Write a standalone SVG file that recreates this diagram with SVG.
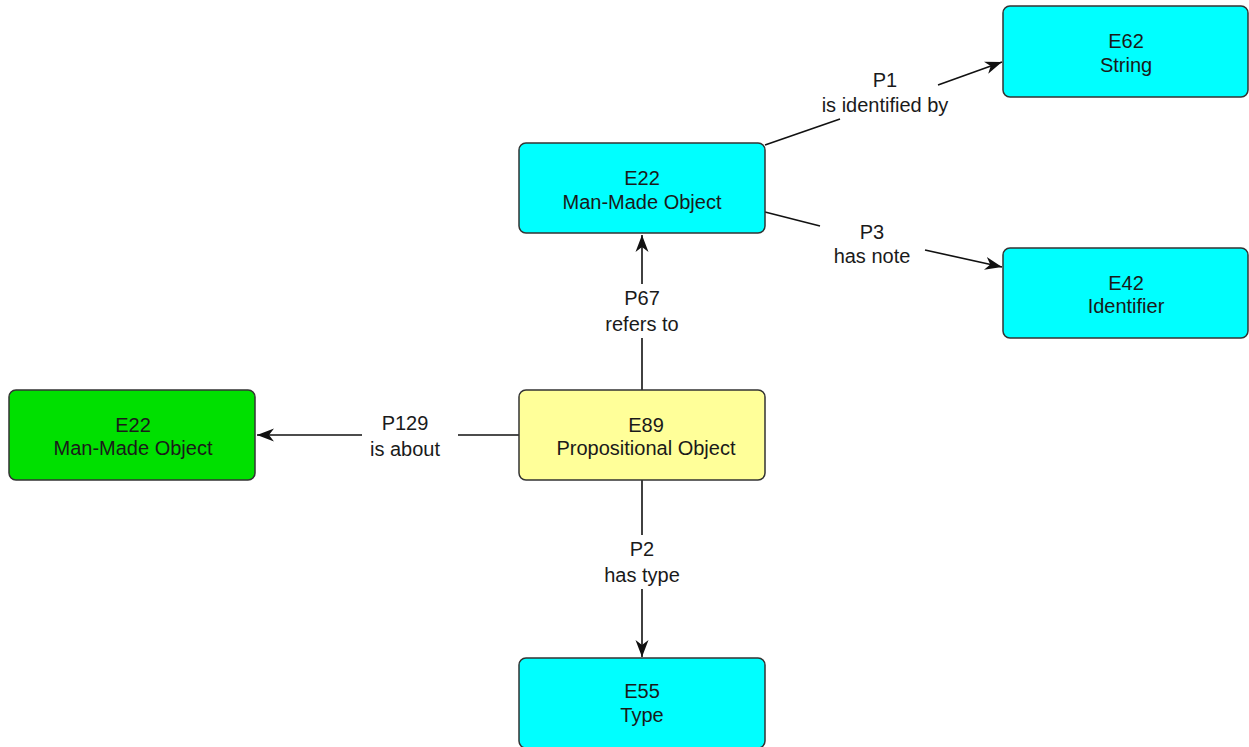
<svg xmlns="http://www.w3.org/2000/svg" width="1249" height="747" viewBox="0 0 1249 747">
<style>
.n{stroke:#333;stroke-width:1.5}
.c{fill:#00ffff}
.g{fill:#00e000}
.y{fill:#ffff99}
text{font-family:"Liberation Sans",Arial,sans-serif;font-size:20px;fill:#1a1a1a;text-anchor:middle}
.l{stroke:#111;stroke-width:1.6;fill:none}
.e{marker-end:url(#arr)}
.bg{fill:#fff}
</style>
<defs>
<marker id="arr" markerWidth="18" markerHeight="14" refX="17" refY="7" orient="auto" markerUnits="userSpaceOnUse">
<path d="M0,0.5 L17,7 L0,13.5 L5,7 Z" fill="#111"/>
</marker>
</defs>
<rect width="1249" height="747" fill="#fff"/>
<g id="connectors">
<line class="l" x1="765" y1="145" x2="840" y2="119"/>
<line class="l e" x1="938" y1="85" x2="1002" y2="62"/>
<line class="l" x1="765" y1="212" x2="820" y2="226"/>
<line class="l e" x1="925" y1="250" x2="1002" y2="267"/>
<line class="l e" x1="642" y1="390" x2="642" y2="235"/>
<line class="l e" x1="519" y1="435" x2="257" y2="435"/>
<line class="l e" x1="642" y1="480" x2="642" y2="657"/>
<g id="labels">
<text x="885" y="87">P1</text><text x="885" y="112">is identified by</text>
<text x="872" y="239">P3</text><text x="872" y="263">has note</text>
<rect class="bg" x="598" y="284" width="88" height="54"/>
<text x="642" y="305">P67</text><text x="642" y="331">refers to</text>
<rect class="bg" x="362" y="409" width="96" height="54"/>
<text x="405" y="430">P129</text><text x="405" y="456">is about</text>
<rect class="bg" x="598" y="535" width="88" height="54"/>
<text x="642" y="556">P2</text><text x="642" y="582">has type</text>
</g>
</g>
<g id="e22top"><rect class="n c" x="519" y="143" width="246" height="90" rx="7"/><text x="642" y="185">E22</text><text x="642" y="209">Man-Made Object</text></g>
<g id="e62"><rect class="n c" x="1003" y="6" width="245" height="91" rx="7"/><text x="1126" y="48">E62</text><text x="1126" y="72">String</text></g>
<g id="e42"><rect class="n c" x="1003" y="248" width="245" height="90" rx="7"/><text x="1126" y="290">E42</text><text x="1126" y="313">Identifier</text></g>
<g id="e89"><rect class="n y" x="519" y="390" width="246" height="90" rx="7"/><text x="646" y="432">E89</text><text x="646" y="455">Propositional Object</text></g>
<g id="e22left"><rect class="n g" x="9" y="390" width="246" height="90" rx="7"/><text x="133" y="432">E22</text><text x="133" y="455">Man-Made Object</text></g>
<g id="e55"><rect class="n c" x="519" y="658" width="246" height="90" rx="7"/><text x="642" y="698">E55</text><text x="642" y="722">Type</text></g>
</svg>
